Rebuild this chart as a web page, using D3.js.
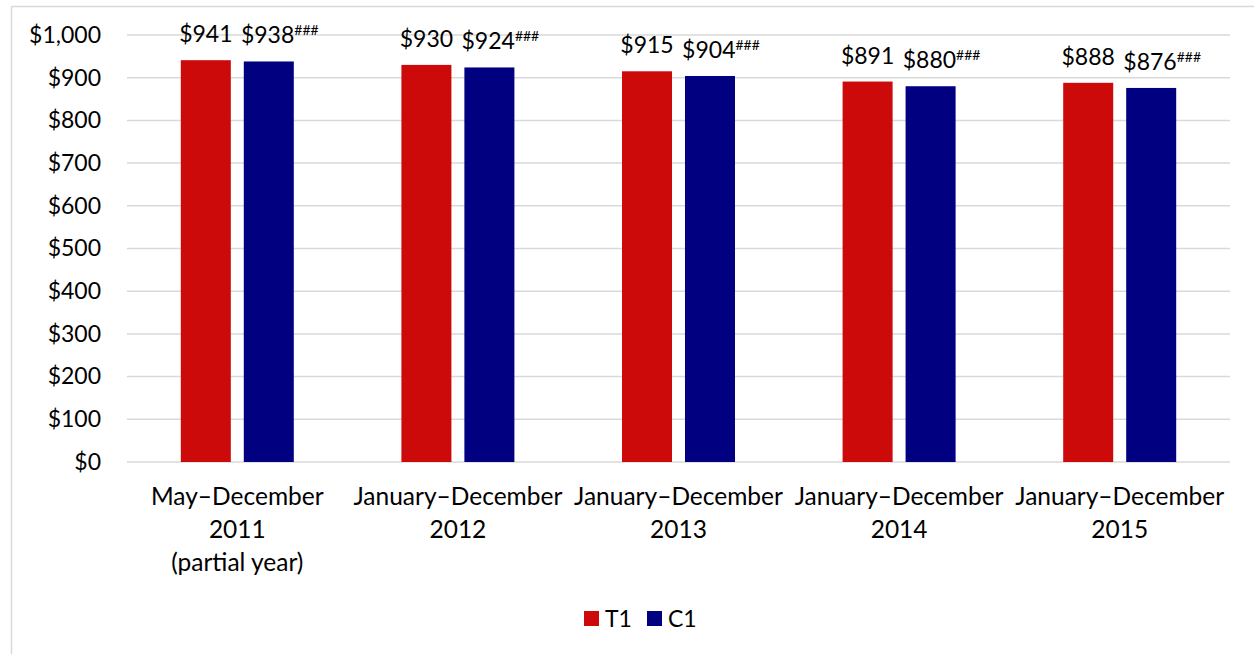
<!DOCTYPE html>
<html>
<head>
<meta charset="utf-8">
<script src="https://cdnjs.cloudflare.com/ajax/libs/d3/7.8.5/d3.min.js"></script>
<style>
  html, body { margin: 0; padding: 0; background: #fff; }
  svg { display: block; font-family: Lato, "Open Sans", "Noto Sans", sans-serif; }
</style>
</head>
<body>
<svg id="chart" width="1254" height="654"></svg>
<script>
// Average monthly amounts by period, treatment (T1) vs. comparison (C1)
const categories = [
  ["May\u2013December", "2011", "(partial year)"],
  ["January\u2013December", "2012"],
  ["January\u2013December", "2013"],
  ["January\u2013December", "2014"],
  ["January\u2013December", "2015"]
];
const seriesNames = ["T1", "C1"];
const t1Values = [941, 930, 915, 891, 888];
const c1Values = [938, 924, 904, 880, 876];
const c1Notes = ["###", "###", "###", "###", "###"];
const yTicks = [0, 100, 200, 300, 400, 500, 600, 700, 800, 900, 1000];
const colors = { T1: "#CC0A0A", C1: "#000080" };

const svg = d3.select("#chart");
const W = 1254, H = 654;
const plot = { left: 127, right: 1230, top: 35, bottom: 462 };
const FS = 23;

// outer chart frame
svg.append("rect")
  .attr("x", 11.5).attr("y", 6.5)
  .attr("width", W + 10).attr("height", H + 10)
  .attr("fill", "#fff").attr("stroke", "#d9d9d9").attr("stroke-width", 1.5);

const x0 = d3.scaleBand()
  .domain(d3.range(categories.length))
  .range([plot.left, plot.right]);

const groupW = 113;
const x1 = d3.scaleBand()
  .domain(seriesNames)
  .range([0, groupW])
  .paddingInner(0.206);

const y = d3.scaleLinear().domain([0, 1000]).range([plot.bottom, plot.top]);

// gridlines
svg.append("g")
  .selectAll("line")
  .data(yTicks)
  .join("line")
  .attr("x1", plot.left).attr("x2", plot.right)
  .attr("y1", d => y(d)).attr("y2", d => y(d))
  .attr("stroke", "#d9d9d9").attr("stroke-width", 1.5);

// y axis labels
const yAxis = d3.axisLeft(y)
  .tickValues(yTicks)
  .tickSize(0)
  .tickPadding(0)
  .tickFormat(d => "$" + d3.format(",")(d));
const yg = svg.append("g")
  .attr("transform", `translate(${plot.left - 26},0)`)
  .call(yAxis);
yg.select(".domain").remove();
yg.selectAll("text")
  .attr("font-size", FS).attr("fill", "#000")
  .attr("font-family", "Lato, 'Open Sans', sans-serif");

// bars
const rows = categories.map((c, i) => ({ i, T1: t1Values[i], C1: c1Values[i], note: c1Notes[i] }));
const groups = svg.append("g")
  .selectAll("g")
  .data(rows)
  .join("g")
  .attr("transform", d => `translate(${x0(d.i) + x0.bandwidth() / 2 - groupW / 2},0)`);

groups.selectAll("rect")
  .data(d => seriesNames.map(k => ({ key: k, value: d[k] })))
  .join("rect")
  .attr("x", d => x1(d.key))
  .attr("y", d => y(d.value))
  .attr("width", x1.bandwidth())
  .attr("height", d => y(0) - y(d.value))
  .attr("fill", d => colors[d.key]);

// value labels
groups.each(function (d) {
  const g = d3.select(this);
  seriesNames.forEach(k => {
    const t = g.append("text")
      .attr("x", x1(k) + x1.bandwidth() / 2 + (k === "C1" ? 11 : 0))
      .attr("y", y(d[k]) - 18)
      .attr("text-anchor", "middle")
      .attr("font-size", FS)
      .attr("fill", "#000");
    t.append("tspan").text("$" + d[k]);
    if (k === "C1" && d.note) {
      t.append("tspan")
        .attr("font-size", 14)
        .attr("dy", -8)
        .text(d.note);
    }
  });
});

// category labels
const xl = svg.append("g");
categories.forEach((lines, i) => {
  const cx = x0(i) + x0.bandwidth() / 2;
  const t = xl.append("text")
    .attr("text-anchor", "middle")
    .attr("font-size", 24.5)
    .attr("fill", "#000");
  lines.forEach((ln, j) => {
    t.append("tspan")
      .attr("x", cx)
      .attr("y", 505 + j * 33)
      .text(ln);
  });
});

// legend
const legend = svg.append("g");
const legendItems = [
  { key: "T1", x: 584 },
  { key: "C1", x: 647 }
];
legendItems.forEach(it => {
  legend.append("rect")
    .attr("x", it.x).attr("y", 611)
    .attr("width", 15).attr("height", 15)
    .attr("fill", colors[it.key]);
  legend.append("text")
    .attr("x", it.x + 21).attr("y", 627)
    .attr("font-size", FS).attr("fill", "#000")
    .text(it.key);
});
</script>
</body>
</html>
